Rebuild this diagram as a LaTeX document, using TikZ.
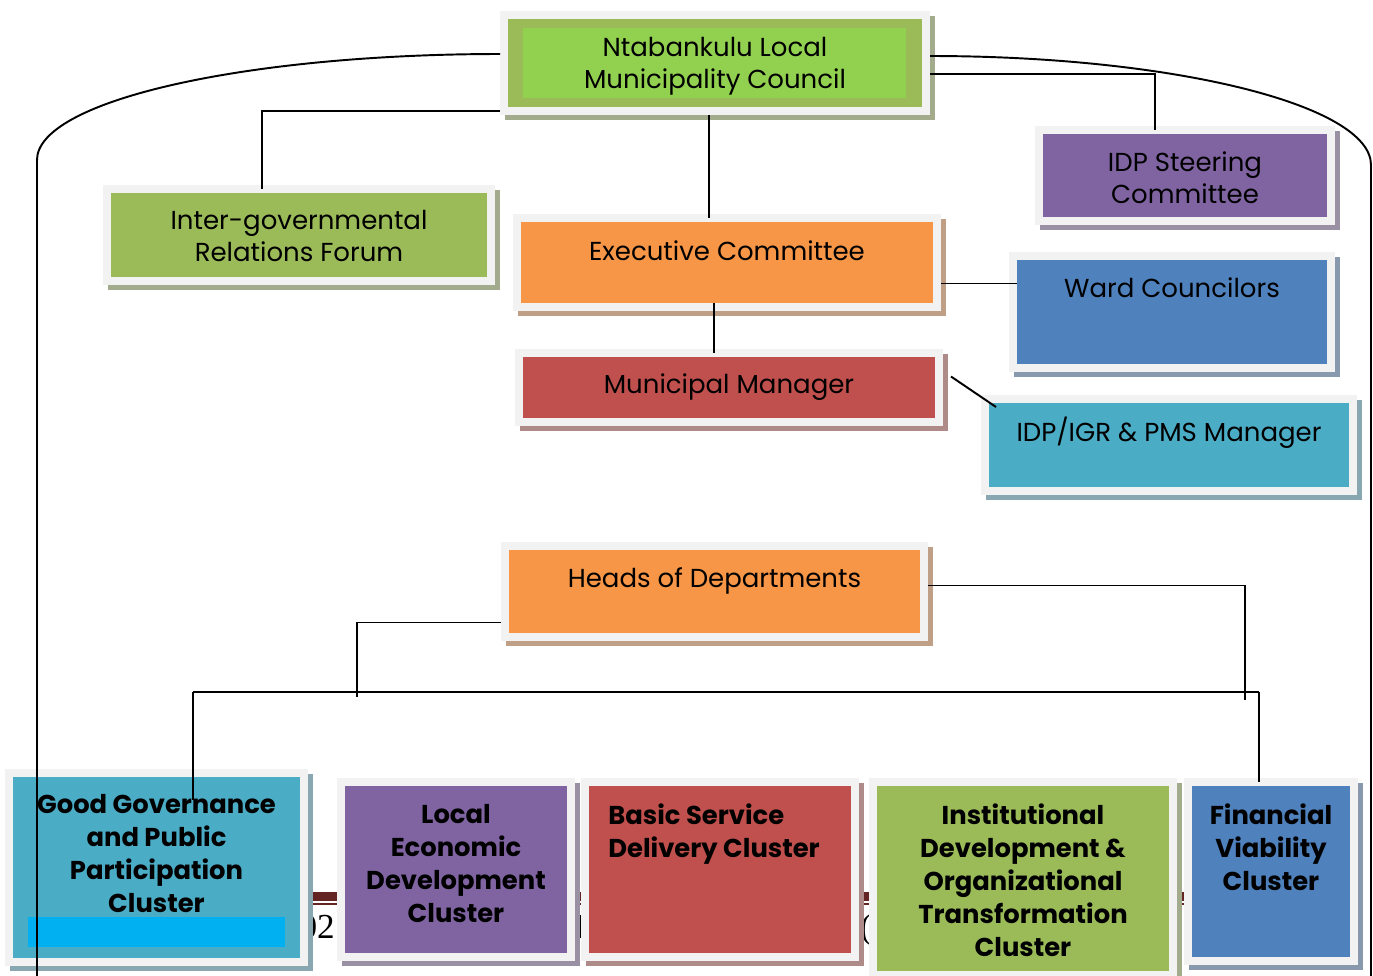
\documentclass[tikz,border=0pt]{standalone}
\usepackage{fontspec}
\setmainfont{Poppins}
\newfontfamily\hdrserif{Liberation Serif}
\definecolor{ogreen}{HTML}{9BBB59}
\definecolor{lgreen}{HTML}{92D050}
\definecolor{opurple}{HTML}{8064A2}
\definecolor{oorange}{HTML}{F79646}
\definecolor{oblue}{HTML}{4F81BD}
\definecolor{ored}{HTML}{C0504D}
\definecolor{oaqua}{HTML}{4BACC6}
\definecolor{ocyan}{HTML}{00B0F0}
\definecolor{framegray}{HTML}{F2F2F2}
\definecolor{hdrred}{HTML}{632423}
\usetikzlibrary{positioning, shadows}

\tikzset{
  orgbox/.style={rectangle, fill=#1, draw=framegray, line width=0.16cm,
    inner sep=0pt, outer sep=0pt,
    general shadow={fill=#1!40!gray!80!white, draw=#1!40!gray!80!white,
      line width=0.16cm, shadow xshift=0.1cm, shadow yshift=-0.1cm}},
  boxsize/.style 2 args={minimum width=#1*0.02cm, minimum height=#2*0.02cm},
  boxtext/.style={inner sep=0pt, align=center, anchor=north,
    font=\fontsize{14.8}{18.2}\selectfont},
  clustertext/.style={boxtext, font=\fontsize{14.7}{18.8}\selectfont\bfseries},
  hdrtext/.style={font=\hdrserif\fontsize{20}{20}\selectfont, inner sep=0pt},
  link/.style={draw=black, line width=1.1pt},
}

\begin{document}
\begin{tikzpicture}[x=0.02cm, y=-0.02cm]
\useasboundingbox (0,0) rectangle (1373,975);

% page header peeking out behind the clusters
\fill[hdrred] (300,892) rectangle (1185,901);
\fill[hdrred] (300,903) rectangle (1185,905);
\node[hdrtext, anchor=base east] (hdr-a) at (335,938) {02};
\node[hdrtext, anchor=base] (hdr-b) at (580,938) {I};
\node[hdrtext, anchor=base] (hdr-c) at (866,938) {(};

% council and its committees
\node[orgbox=ogreen, boxsize={422}{96},
  path picture={\fill[lgreen] ([shift={(19,13)}]path picture bounding box.north west)
    rectangle ([shift={(-20,-13)}]path picture bounding box.south east);}] (council) at (715,63) {};
\node[orgbox=ogreen, boxsize={384}{92}] (igr) at (299,235) {};
\node[orgbox=opurple, boxsize={292}{91}] (idpsc) at (1185,175.5) {};
\node[orgbox=oorange, boxsize={420}{89}] (exec) at (727,262.5) {};
\node[orgbox=oblue, boxsize={318}{112}] (ward) at (1172,312) {};
\node[orgbox=ored, boxsize={420}{69}] (mm) at (729,387.5) {};
\node[orgbox=oaqua, boxsize={368}{92}] (pms) at (1169,445) {};
\node[orgbox=oorange, boxsize={419}{91}] (hod) at (714.5,591.5) {};

% clusters
\node[orgbox=oaqua, boxsize={295}{189}] (gg) at (156.5,867.5) {};
\fill[ocyan] ([shift={(19,-15)}]gg.south west) rectangle ([shift={(-19,-45)}]gg.south east);
\node[orgbox=opurple, boxsize={230}{175}] (led) at (456,869.5) {};
\node[orgbox=ored, boxsize={270}{175}] (bsd) at (720,869.5) {};
\node[orgbox=ogreen, boxsize={300}{193}] (idot) at (1023,878.5) {};
\node[orgbox=oblue, boxsize={166}{179}] (fin) at (1271,871.5) {};

% labels
\node[boxtext, below=0.44cm of council.north] (council-t) {Ntabankulu Local\\Municipality Council};
\node[boxtext, below=0.42cm of igr.north] (igr-t) {Inter-governmental\\Relations Forum};
\node[boxtext, below=0.42cm of idpsc.north] (idpsc-t) {IDP Steering\\Committee};
\node[boxtext, below=0.44cm of exec.north] (exec-t) {Executive Committee};
\node[boxtext, below=0.42cm of ward.north] (ward-t) {Ward Councilors};
\node[boxtext, below=0.40cm of mm.north] (mm-t) {Municipal Manager};
\node[boxtext, below=0.36cm of pms.north] (pms-t) {IDP/IGR \& PMS Manager};
\node[boxtext, below=0.42cm of hod.north] (hod-t) {Heads of Departments};

\node[clustertext, below=0.42cm of gg.north] (gg-t) {Good Governance\\and Public\\Participation\\Cluster};
\node[clustertext, below=0.44cm of led.north] (led-t) {Local\\Economic\\Development\\Cluster};
\node[clustertext, align=left, anchor=north west, below right=0.42cm and 0.46cm of bsd.north west] (bsd-t) {Basic Service\\Delivery Cluster};
\node[clustertext, below=0.42cm of idot.north] (idot-t) {Institutional\\Development \&\\Organizational\\Transformation\\Cluster};
\node[clustertext, below=0.42cm of fin.north] (fin-t) {Financial\\Viability\\Cluster};

% connectors
\coordinate (bus-l) at (193,692);
\coordinate (bus-r) at (1259,692);
\coordinate (gg-drop) at (193,800);
\coordinate (page-bl) at (37,980);
\coordinate (page-br) at (1371,980);

\draw[link] ([shift={(-4,0)}]council.south west) -| ([shift={(-37,0)}]igr.north);
\draw[link] ([shift={(-6,4)}]council.south) -- ([shift={(-6,0)}]council.south |- exec.north);
\draw[link] ([shift={(4,11)}]council.east) -| ([shift={(-30,0)}]idpsc.north);
\draw[link] ([shift={(4,21)}]exec.east) -- ([shift={(4,21)}]exec.east -| ward.west);
\draw[link] ([shift={(-13,-4)}]exec.south) -- ([shift={(-13,0)}]exec.south |- mm.north);
\draw[link] ([shift={(12,-11)}]mm.east) -- ([shift={(11,8)}]pms.north west);
\draw[link] ([shift={(-4,31)}]hod.west) -| ([shift={(164,5)}]bus-l);
\draw[link] ([shift={(4,-6)}]hod.east) -| ([shift={(-14,8)}]bus-r);
\draw[link] (bus-l) -- (bus-r);
\draw[link] (bus-l) -- (gg-drop);
\draw[link] (bus-r) -- (bus-r |- fin.north);

% outer loop round the whole chart
\draw[link] ([shift={(-4,-9)}]council.west) .. controls (244,54) and (37,101) .. (37,160) -- (page-bl);
\draw[link] ([shift={(4,-7)}]council.east) .. controls (1173,56) and (1371,105) .. (1371,165) -- (page-br);

\end{tikzpicture}
\end{document}
